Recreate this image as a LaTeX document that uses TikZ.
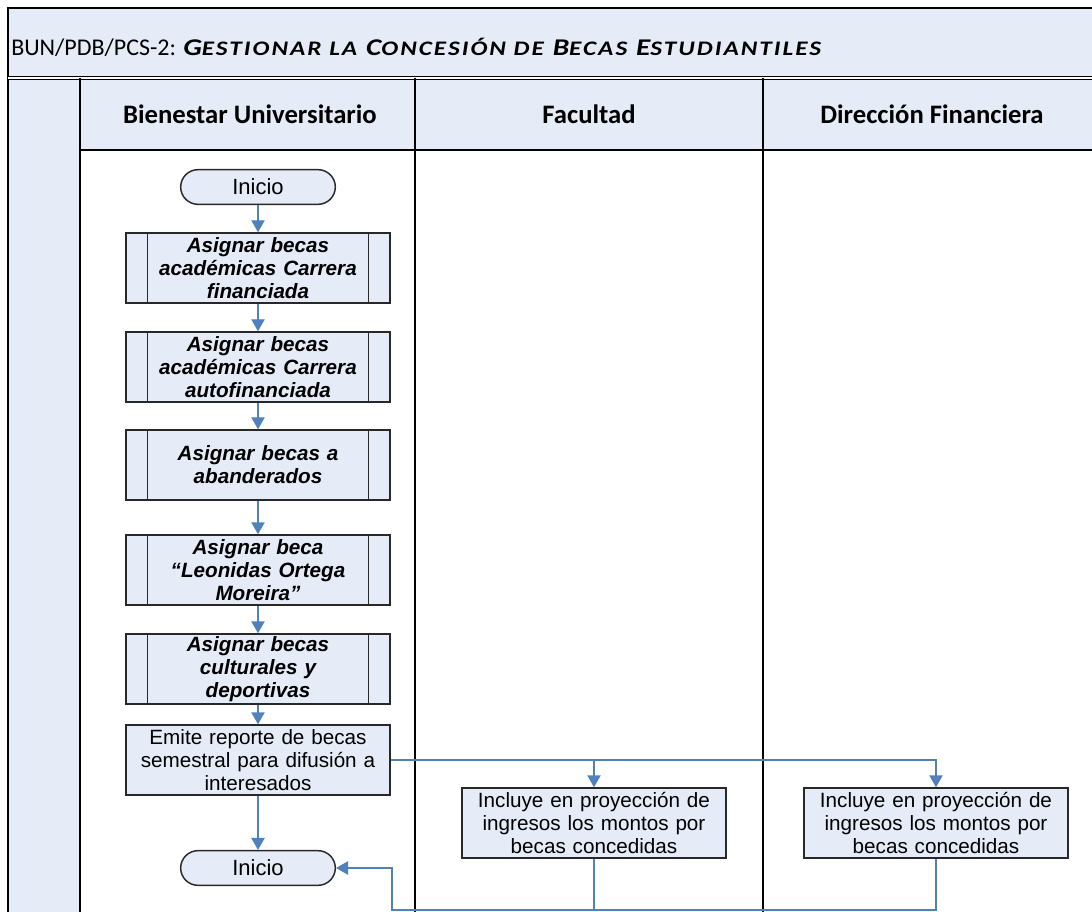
\documentclass[tikz,border=0pt]{standalone}
\usepackage{fontspec}
\setmainfont{Liberation Sans}
\newfontfamily\calibri{Carlito}
\usepackage{tikz}
\usetikzlibrary{arrows.meta,positioning,calc}
\definecolor{laneblue}{RGB}{230,236,247}
\definecolor{flowblue}{RGB}{79,129,189}
\definecolor{edgegray}{RGB}{40,40,40}
\newcommand{\tsc}[1]{{\fontsize{15.5}{16}\selectfont #1}}

\begin{document}
\begin{tikzpicture}[x=0.75pt,y=-0.75pt,
	box/.style={draw=edgegray,line width=1.1pt,fill=laneblue,minimum width=198pt,minimum height=52.5pt,text width=190pt,align=center,inner sep=0pt,font=\fontsize{15.5}{17.25}\selectfont},
	subproc/.style={box,text width=165pt,font=\fontsize{15.5}{17.25}\selectfont\bfseries\itshape},
	term/.style={draw=edgegray,line width=1.1pt,fill=laneblue,rounded corners=13pt,minimum width=116pt,minimum height=26pt,inner sep=0pt,font=\fontsize{16.5}{17}\selectfont},
	lane/.style={font=\calibri\bfseries\fontsize{20}{22}\selectfont},
	flow/.style={draw=flowblue,line width=1.1pt,-{Triangle[length=9pt,width=10pt]}},
	link/.style={draw=flowblue,line width=1.1pt}]
	\useasboundingbox (0,0) rectangle (1092,912);
	% pool and lanes
	\fill[laneblue] (8,8) rectangle (1100,78);
	\fill[laneblue] (8,78) rectangle (80,920);
	\fill[laneblue] (80,78) rectangle (1100,150);
	\draw[line width=0.9pt] (8,920) -- (8,8) -- (1100,8);
	\draw[line width=0.9pt,double,double distance=0.8pt] (8,78) -- (1100,78);
	\draw[line width=0.9pt] (80,150) -- (1100,150);
	\foreach \x in {80,415,763}
		\draw[line width=0.9pt] (\x,78) -- (\x,920);
	\node[anchor=west,inner sep=0pt,font=\calibri\fontsize{18}{20}\selectfont] (title) at (11,47) {BUN/PDB/PCS-2: \scalebox{1.22}[1]{\bfseries\itshape\addfontfeature{LetterSpace=8}G\tsc{ESTIONAR LA} C\tsc{ONCESIÓN DE} B\tsc{ECAS} E\tsc{STUDIANTILES}}};
	\node[lane] (hbu) at (250,114) {Bienestar Universitario};
	\node[lane] (hfac) at (589,114) {Facultad};
	\node[lane] (hdf) at (932,114) {Dirección Financiera};
	% Bienestar Universitario
	\node[term] (ini1) at (258,187) {Inicio};
	\node[subproc] (s1) at (258,268) {Asignar becas\\académicas Carrera\\financiada};
	\node[subproc] (s2) at (258,367) {Asignar becas\\académicas Carrera\\autofinanciada};
	\node[subproc] (s3) at (258,465) {Asignar becas a\\abanderados};
	\node[subproc] (s4) at (258,570) {Asignar beca\\“Leonidas Ortega\\Moreira”};
	\node[subproc] (s5) at (258,669) {Asignar becas\\culturales y\\deportivas};
	\node[box] (emite) at (258,760) {Emite reporte de becas\\semestral para difusión a\\interesados};
	\node[term] (ini2) at (258,868) {Inicio};
	% Facultad and Direccion Financiera
	\node[box] (fac) at (594,823) {Incluye en proyección de\\ingresos los montos por\\becas concedidas};
	\node[box] (fin) at (936,823) {Incluye en proyección de\\ingresos los montos por\\becas concedidas};
	\foreach \n in {s1,s2,s3,s4,s5}{
		\draw[edgegray,line width=1.1pt] ([xshift=16.5pt]\n.north west) -- ([xshift=16.5pt]\n.south west);
		\draw[edgegray,line width=1.1pt] ([xshift=-16.5pt]\n.north east) -- ([xshift=-16.5pt]\n.south east);
	}
	% connectors
	\foreach \a/\b in {ini1/s1,s1/s2,s2/s3,s3/s4,s4/s5,s5/emite,emite/ini2}
		\draw[flow] (\a) -- (\b);
	\draw[flow] (emite.east) -| (fac.north);
	\draw[flow] (emite.east) -| (fin.north);
	\coordinate (ret) at (392,910);
	\draw[link] (fac.south) -- (fac.south |- ret);
	\draw[flow] (fin.south) |- (ret) |- (ini2.east);
\end{tikzpicture}
\end{document}
